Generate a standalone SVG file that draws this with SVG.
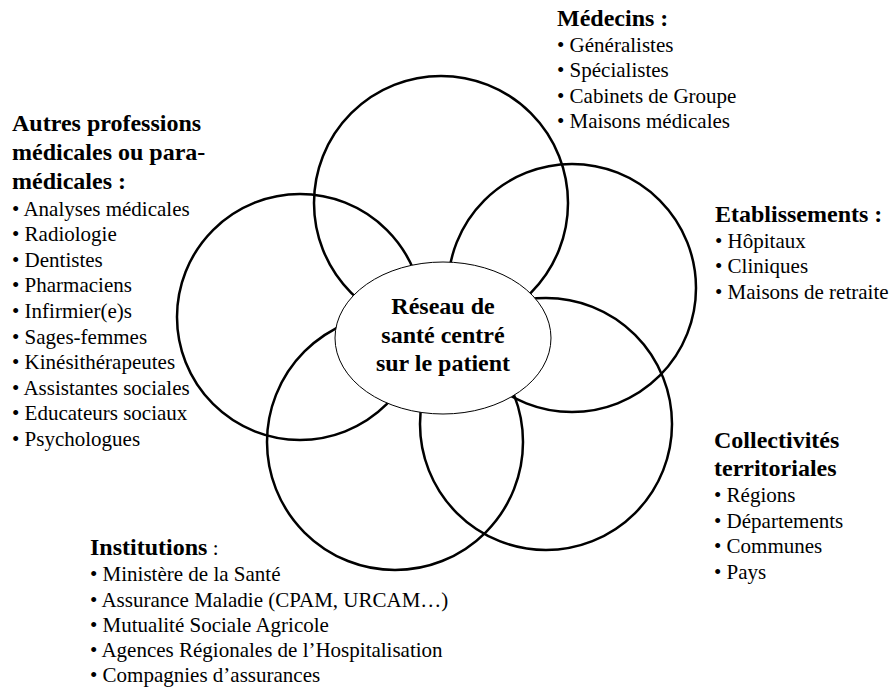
<svg xmlns="http://www.w3.org/2000/svg" width="893" height="687" viewBox="0 0 893 687">
<style>
.ring{fill:none;stroke:#000;stroke-width:2.5}
.hub{fill:#fff;stroke:#000;stroke-width:1}
.h{font-family:"Liberation Serif","Times New Roman",serif;font-size:24px;font-weight:bold;fill:#000}
.b{font-family:"Liberation Serif","Times New Roman",serif;font-size:21px;fill:#000}
.c{text-anchor:middle}
</style>
<rect width="893" height="687" fill="#fff"/>
<g id="medecins">
<circle class="ring" cx="441" cy="203" r="127"/>
<text class="h" x="557" y="26">Médecins :</text>
<text class="b" x="557" y="51.5">• Généralistes</text>
<text class="b" x="557" y="77">• Spécialistes</text>
<text class="b" x="557" y="102.5">• Cabinets de Groupe</text>
<text class="b" x="557" y="128">• Maisons médicales</text>
</g>
<g id="etablissements">
<circle class="ring" cx="572" cy="288" r="124"/>
<text class="h" x="715" y="222">Etablissements :</text>
<text class="b" x="715" y="247.5">• Hôpitaux</text>
<text class="b" x="715" y="273">• Cliniques</text>
<text class="b" x="715" y="298.5">• Maisons de retraite</text>
</g>
<g id="collectivites">
<circle class="ring" cx="546" cy="424" r="126"/>
<text class="h" x="714" y="448">Collectivités</text>
<text class="h" x="714" y="476">territoriales</text>
<text class="b" x="714" y="502">• Régions</text>
<text class="b" x="714" y="528">• Départements</text>
<text class="b" x="714" y="553">• Communes</text>
<text class="b" x="714" y="579">• Pays</text>
</g>
<g id="institutions">
<circle class="ring" cx="395" cy="442" r="128"/>
<text class="h" x="90" y="555">Institutions<tspan class="b" font-weight="normal"> :</tspan></text>
<text class="b" x="90" y="581">• Ministère de la Santé</text>
<text class="b" x="90" y="606.5">• Assurance Maladie (CPAM, URCAM…)</text>
<text class="b" x="90" y="632">• Mutualité Sociale Agricole</text>
<text class="b" x="90" y="657">• Agences Régionales de l’Hospitalisation</text>
<text class="b" x="90" y="682">• Compagnies d’assurances</text>
</g>
<g id="autres">
<circle class="ring" cx="300" cy="317" r="123"/>
<text class="h" x="12" y="131">Autres professions</text>
<text class="h" x="12" y="160">médicales ou para-</text>
<text class="h" x="12" y="189">médicales :</text>
<text class="b" x="12" y="215.5">• Analyses médicales</text>
<text class="b" x="12" y="241">• Radiologie</text>
<text class="b" x="12" y="266.5">• Dentistes</text>
<text class="b" x="12" y="292">• Pharmaciens</text>
<text class="b" x="12" y="318">• Infirmier(e)s</text>
<text class="b" x="12" y="343.5">• Sages-femmes</text>
<text class="b" x="12" y="369">• Kinésithérapeutes</text>
<text class="b" x="12" y="394.5">• Assistantes sociales</text>
<text class="b" x="12" y="420">• Educateurs sociaux</text>
<text class="b" x="12" y="446">• Psychologues</text>
</g>
<g id="reseau">
<ellipse class="hub" cx="443" cy="338" rx="108" ry="76"/>
<text class="h c" x="443" y="314">Réseau de</text>
<text class="h c" x="443" y="342.5">santé centré</text>
<text class="h c" x="443" y="371">sur le patient</text>
</g>
<g id="connectors"/>
</svg>
